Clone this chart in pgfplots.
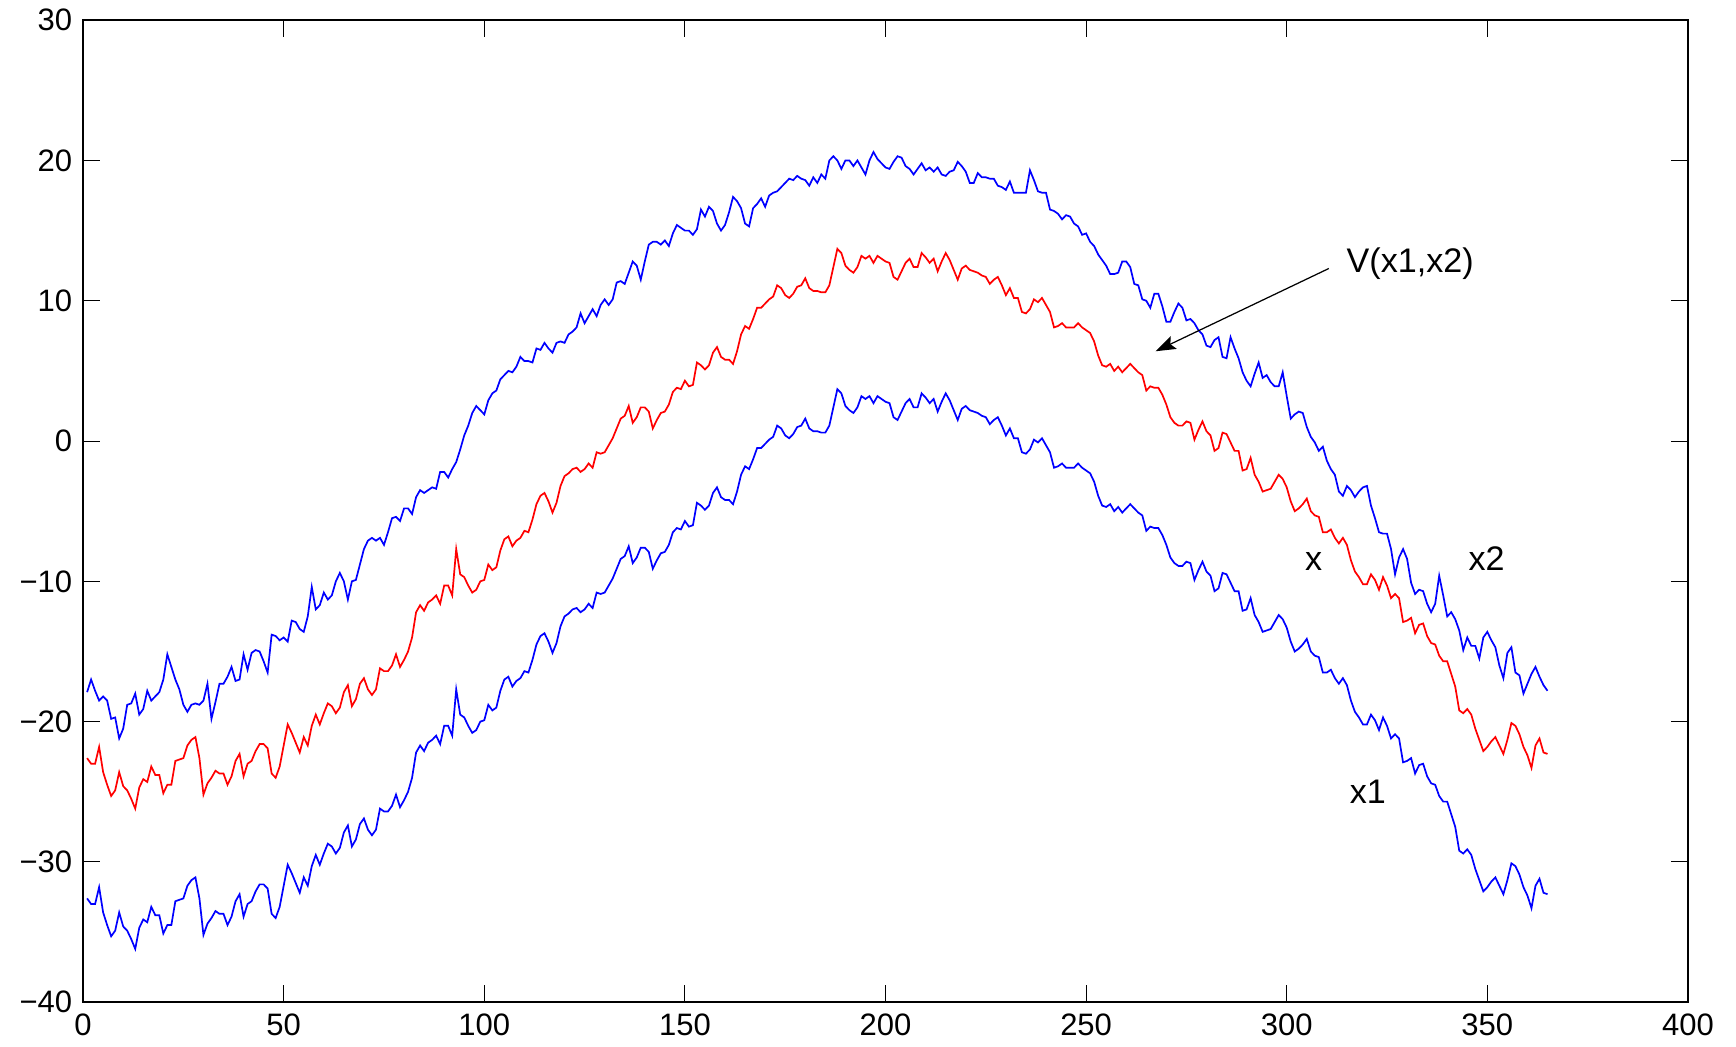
\documentclass[border=0pt]{standalone}
\usepackage{pgfplots}
\pgfplotsset{compat=1.18}
\usepackage{pgfplotstable}
\usepackage{fontspec}
\setmainfont{Liberation Sans}
\usetikzlibrary{arrows.meta}

\pgfplotstableread{
t x x1 x2
1 -22.6 -32.6 -17.9
2 -23.0 -33.0 -17.0
3 -23.0 -33.0 -17.8
4 -21.8 -31.8 -18.5
5 -23.6 -33.6 -18.2
6 -24.5 -34.5 -18.5
7 -25.3 -35.3 -19.8
8 -24.9 -34.9 -19.7
9 -23.6 -33.6 -21.2
10 -24.6 -34.6 -20.5
11 -24.9 -34.9 -18.8
12 -25.5 -35.5 -18.7
13 -26.2 -36.2 -18.0
14 -24.7 -34.7 -19.5
15 -24.1 -34.1 -19.1
16 -24.3 -34.3 -17.8
17 -23.2 -33.2 -18.5
18 -23.8 -33.8 -18.2
19 -23.8 -33.8 -17.9
20 -25.1 -35.1 -17.0
21 -24.5 -34.5 -15.2
22 -24.5 -34.5 -16.1
23 -22.8 -32.8 -17.0
24 -22.7 -32.7 -17.7
25 -22.6 -32.6 -18.8
26 -21.7 -31.7 -19.3
27 -21.3 -31.3 -18.8
28 -21.1 -31.1 -18.7
29 -22.6 -32.6 -18.8
30 -25.2 -35.2 -18.5
31 -24.4 -34.4 -17.3
32 -24.0 -34.0 -19.8
33 -23.5 -33.5 -18.6
34 -23.7 -33.7 -17.3
35 -23.7 -33.7 -17.3
36 -24.5 -34.5 -16.8
37 -23.9 -33.9 -16.1
38 -22.8 -32.8 -17.1
39 -22.3 -32.3 -17.0
40 -23.9 -33.9 -15.2
41 -23.0 -33.0 -16.3
42 -22.8 -32.8 -15.1
43 -22.1 -32.1 -14.9
44 -21.6 -31.6 -15.0
45 -21.6 -31.6 -15.7
46 -21.9 -31.9 -16.5
47 -23.7 -33.7 -13.8
48 -24.0 -34.0 -13.9
49 -23.2 -33.2 -14.2
50 -21.7 -31.7 -14.0
51 -20.2 -30.2 -14.3
52 -20.8 -30.8 -12.8
53 -21.5 -31.5 -12.9
54 -22.2 -32.2 -13.4
55 -21.1 -31.1 -13.6
56 -21.7 -31.7 -12.5
57 -20.3 -30.3 -10.4
58 -19.5 -29.5 -12.0
59 -20.2 -30.2 -11.7
60 -19.4 -29.4 -10.8
61 -18.7 -28.7 -11.3
62 -18.9 -28.9 -11.0
63 -19.4 -29.4 -10.0
64 -19.0 -29.0 -9.4
65 -17.9 -27.9 -10.0
66 -17.4 -27.4 -11.3
67 -18.9 -28.9 -10.0
68 -18.4 -28.4 -9.9
69 -17.3 -27.3 -8.8
70 -16.9 -26.9 -7.7
71 -17.7 -27.7 -7.1
72 -18.1 -28.1 -6.9
73 -17.7 -27.7 -7.1
74 -16.2 -26.2 -6.9
75 -16.4 -26.4 -7.4
76 -16.4 -26.4 -6.5
77 -16.0 -26.0 -5.5
78 -15.2 -25.2 -5.4
79 -16.1 -26.1 -5.7
80 -15.6 -25.6 -4.8
81 -15.0 -25.0 -4.8
82 -14.0 -24.0 -5.2
83 -12.2 -22.2 -4.0
84 -11.7 -21.7 -3.5
85 -12.1 -22.1 -3.7
86 -11.5 -21.5 -3.5
87 -11.3 -21.3 -3.3
88 -11.0 -21.0 -3.4
89 -11.6 -21.6 -2.2
90 -10.3 -20.3 -2.2
91 -10.3 -20.3 -2.6
92 -11.0 -21.0 -2.0
93 -7.7 -17.7 -1.5
94 -9.5 -19.5 -0.6
95 -9.7 -19.7 0.4
96 -10.3 -20.3 1.1
97 -10.8 -20.8 2.0
98 -10.6 -20.6 2.5
99 -10.0 -20.0 2.2
100 -9.9 -19.9 1.9
101 -8.8 -18.8 2.9
102 -9.2 -19.2 3.4
103 -9.0 -19.0 3.6
104 -7.8 -17.8 4.4
105 -7.0 -17.0 4.7
106 -6.8 -16.8 5.0
107 -7.5 -17.5 4.9
108 -7.1 -17.1 5.3
109 -6.9 -16.9 6.0
110 -6.4 -16.4 5.7
111 -6.5 -16.5 5.7
112 -5.6 -15.6 5.6
113 -4.5 -14.5 6.6
114 -3.9 -13.9 6.5
115 -3.7 -13.7 7.0
116 -4.3 -14.3 6.6
117 -5.1 -15.1 6.3
118 -4.4 -14.4 7.0
119 -3.2 -13.2 7.1
120 -2.5 -12.5 7.0
121 -2.3 -12.3 7.6
122 -2.0 -12.0 7.8
123 -1.9 -11.9 8.1
124 -2.2 -12.2 9.1
125 -2.0 -12.0 8.4
126 -1.6 -11.6 8.9
127 -1.9 -11.9 9.4
128 -0.8 -10.8 8.9
129 -0.9 -10.9 9.7
130 -0.8 -10.8 10.1
131 -0.3 -10.3 9.7
132 0.2 -9.8 10.1
133 0.9 -9.1 11.3
134 1.6 -8.4 11.4
135 1.8 -8.2 11.2
136 2.5 -7.5 12.0
137 1.3 -8.7 12.8
138 1.7 -8.3 12.5
139 2.4 -7.6 11.5
140 2.4 -7.6 12.8
141 2.1 -7.9 14.0
142 0.9 -9.1 14.2
143 1.5 -8.5 14.2
144 2.0 -8.0 14.0
145 2.1 -7.9 14.3
146 2.6 -7.4 13.9
147 3.5 -6.5 14.8
148 3.8 -6.2 15.4
149 3.7 -6.3 15.2
150 4.3 -5.7 15.0
151 3.9 -6.1 15.0
152 4.0 -6.0 14.7
153 5.6 -4.4 15.1
154 5.4 -4.6 16.5
155 5.1 -4.9 16.0
156 5.4 -4.6 16.7
157 6.3 -3.7 16.4
158 6.7 -3.3 15.5
159 6.0 -4.0 15.0
160 5.8 -4.2 15.4
161 5.8 -4.2 16.3
162 5.5 -4.5 17.4
163 6.4 -3.6 17.1
164 7.6 -2.4 16.6
165 8.2 -1.8 15.5
166 8.0 -2.0 15.3
167 8.7 -1.3 16.6
168 9.5 -0.5 16.9
169 9.5 -0.5 17.3
170 9.8 -0.2 16.7
171 10.1 0.1 17.5
172 10.3 0.3 17.7
173 11.1 1.1 17.8
174 10.9 0.9 18.1
175 10.4 0.4 18.4
176 10.2 0.2 18.7
177 10.5 0.5 18.6
178 11.0 1.0 18.9
179 11.1 1.1 18.7
180 11.6 1.6 18.6
181 10.9 0.9 18.2
182 10.7 0.7 18.8
183 10.7 0.7 18.4
184 10.6 0.6 19.0
185 10.6 0.6 18.7
186 11.1 1.1 20.0
187 12.4 2.4 20.3
188 13.7 3.7 20.0
189 13.4 3.4 19.4
190 12.5 2.5 20.0
191 12.2 2.2 20.0
192 12.0 2.0 19.6
193 12.4 2.4 20.0
194 13.2 3.2 19.5
195 13.0 3.0 19.0
196 13.2 3.2 20.0
197 12.7 2.7 20.6
198 13.2 3.2 20.1
199 13.0 3.0 19.8
200 12.8 2.8 19.5
201 12.7 2.7 19.4
202 11.7 1.7 19.9
203 11.5 1.5 20.3
204 12.1 2.1 20.2
205 12.7 2.7 19.6
206 13.0 3.0 19.4
207 12.4 2.4 19.0
208 12.4 2.4 19.4
209 13.4 3.4 19.8
210 13.1 3.1 19.3
211 12.7 2.7 19.5
212 13.0 3.0 19.2
213 12.1 2.1 19.5
214 12.8 2.8 19.0
215 13.4 3.4 18.9
216 12.9 2.9 19.2
217 12.2 2.2 19.3
218 11.5 1.5 19.9
219 12.3 2.3 19.6
220 12.5 2.5 19.2
221 12.2 2.2 18.4
222 12.1 2.1 18.4
223 12.0 2.0 19.1
224 11.8 1.8 18.8
225 11.7 1.7 18.8
226 11.2 1.2 18.7
227 11.5 1.5 18.7
228 11.7 1.7 18.2
229 11.1 1.1 18.1
230 10.4 0.4 17.9
231 10.9 0.9 18.5
232 10.2 0.2 17.7
233 10.2 0.2 17.7
234 9.2 -0.8 17.7
235 9.1 -0.9 17.7
236 9.4 -0.6 19.3
237 10.1 0.1 18.6
238 9.9 -0.1 17.8
239 10.2 0.2 17.7
240 9.7 -0.3 17.7
241 9.2 -0.8 16.5
242 8.1 -1.9 16.4
243 8.2 -1.8 16.2
244 8.4 -1.6 15.8
245 8.1 -1.9 16.1
246 8.1 -1.9 16.0
247 8.1 -1.9 15.5
248 8.4 -1.6 15.3
249 8.1 -1.9 14.7
250 7.9 -2.1 14.8
251 7.7 -2.3 14.2
252 7.1 -2.9 13.9
253 6.1 -3.9 13.3
254 5.4 -4.6 12.9
255 5.3 -4.7 12.5
256 5.5 -4.5 11.9
257 5.0 -5.0 11.9
258 5.3 -4.7 12.0
259 4.9 -5.1 12.8
260 5.2 -4.8 12.8
261 5.5 -4.5 12.4
262 5.2 -4.8 11.2
263 4.9 -5.1 11.1
264 4.7 -5.3 10.1
265 3.6 -6.4 10.0
266 3.9 -6.1 9.5
267 3.8 -6.2 10.5
268 3.8 -6.2 10.5
269 3.3 -6.7 9.6
270 2.6 -7.4 8.5
271 1.7 -8.3 8.5
272 1.3 -8.7 9.2
273 1.1 -8.9 9.8
274 1.1 -8.9 9.5
275 1.4 -8.6 8.6
276 1.3 -8.7 8.7
277 0.1 -9.9 8.4
278 0.8 -9.2 7.9
279 1.4 -8.6 7.6
280 0.7 -9.3 6.8
281 0.4 -9.6 6.7
282 -0.7 -10.7 7.2
283 -0.5 -10.5 7.4
284 0.6 -9.4 6.0
285 0.5 -9.5 5.9
286 -0.1 -10.1 7.4
287 -0.7 -10.7 6.6
288 -0.7 -10.7 5.9
289 -2.1 -12.1 4.9
290 -2.0 -12.0 4.3
291 -1.2 -11.2 3.9
292 -2.4 -12.4 4.8
293 -2.9 -12.9 5.6
294 -3.6 -13.6 4.5
295 -3.5 -13.5 4.7
296 -3.4 -13.4 4.2
297 -2.9 -12.9 3.9
298 -2.4 -12.4 3.9
299 -2.7 -12.7 4.9
300 -3.3 -13.3 3.2
301 -4.3 -14.3 1.6
302 -5.0 -15.0 1.9
303 -4.8 -14.8 2.1
304 -4.5 -14.5 2.0
305 -4.1 -14.1 1.0
306 -5.0 -15.0 0.3
307 -5.3 -15.3 -0.1
308 -5.4 -15.4 -0.7
309 -6.5 -16.5 -0.4
310 -6.5 -16.5 -1.4
311 -6.3 -16.3 -2.0
312 -6.9 -16.9 -2.4
313 -7.3 -17.3 -3.6
314 -6.9 -16.9 -3.9
315 -7.4 -17.4 -3.2
316 -8.5 -18.5 -3.5
317 -9.3 -19.3 -4.0
318 -9.7 -19.7 -3.6
319 -10.2 -20.2 -3.3
320 -10.2 -20.2 -3.2
321 -9.5 -19.5 -4.6
322 -9.9 -19.9 -5.5
323 -10.6 -20.6 -6.5
324 -9.7 -19.7 -6.6
325 -10.3 -20.3 -6.6
326 -11.2 -21.2 -7.7
327 -10.9 -20.9 -9.5
328 -11.2 -21.2 -8.3
329 -12.9 -22.9 -7.7
330 -12.8 -22.8 -8.4
331 -12.6 -22.6 -10.1
332 -13.7 -23.7 -10.9
333 -13.1 -23.1 -10.6
334 -13.0 -23.0 -10.7
335 -13.9 -23.9 -11.6
336 -14.4 -24.4 -12.2
337 -14.5 -24.5 -11.6
338 -15.3 -25.3 -9.6
339 -15.7 -25.7 -11.0
340 -15.7 -25.7 -12.5
341 -16.6 -26.6 -12.2
342 -17.5 -27.5 -12.7
343 -19.2 -29.2 -13.5
344 -19.4 -29.4 -14.9
345 -19.1 -29.1 -14.0
346 -19.5 -29.5 -14.6
347 -20.5 -30.5 -14.6
348 -21.3 -31.3 -15.5
349 -22.1 -32.1 -14.0
350 -21.8 -31.8 -13.6
351 -21.4 -31.4 -14.2
352 -21.1 -31.1 -14.7
353 -21.7 -31.7 -16.0
354 -22.3 -32.3 -16.9
355 -21.3 -31.3 -15.1
356 -20.1 -30.1 -14.7
357 -20.3 -30.3 -16.5
358 -20.9 -30.9 -16.7
359 -21.8 -31.8 -18.0
360 -22.4 -32.4 -17.3
361 -23.3 -33.3 -16.6
362 -21.7 -31.7 -16.1
363 -21.2 -31.2 -16.8
364 -22.2 -32.2 -17.4
365 -22.3 -32.3 -17.8
}\data

\begin{document}
\begin{tikzpicture}
\useasboundingbox (-26.8pt,-14.2pt) rectangle (533.2pt,323.3pt);
\begin{axis}[
  at={(0,0)}, anchor=south west, scale only axis,
  width=517.7pt, height=316.8pt,
  xmin=0, xmax=400, ymin=-40, ymax=30,
  xtick={0,50,...,400}, ytick={-40,-30,...,30},
  yticklabels={−40,−30,−20,−10,0,10,20,30},
  tick align=inside,
  xtick pos=both, ytick pos=both,
  major tick length=5.4pt,
  tick style={line width=0.35pt, black},
  axis line style={line width=0.75pt},
  ticklabel style={font=\fontsize{10}{12}\selectfont},
  /pgf/number format/assume math mode=true,
  xticklabel style={yshift=-0.2pt},
]
\addplot[blue, line width=0.55pt, no marks] table[x=t,y=x2]{\data};
\addplot[red, line width=0.55pt, no marks] table[x=t,y=x]{\data};
\addplot[blue, line width=0.55pt, no marks] table[x=t,y=x1]{\data};
\draw[-{Stealth[length=6.5pt,width=4.5pt,inset=1.2pt]}, line width=0.4pt] (axis cs:310.5,12.3) -- (axis cs:267.3,6.4);
\node[anchor=base west, inner sep=0, font=\fontsize{11}{13}\selectfont] at (axis cs:314.8,12.0) {V(x1,x2)};
\node[anchor=base, inner sep=0, font=\fontsize{11}{13}\selectfont] at (axis cs:306.7,-9.2) {x};
\node[anchor=base west, inner sep=0, font=\fontsize{11}{13}\selectfont] at (axis cs:345.2,-9.2) {x2};
\node[anchor=base west, inner sep=0, font=\fontsize{11}{13}\selectfont] at (axis cs:315.6,-25.8) {x1};
\end{axis}
\end{tikzpicture}
\end{document}
